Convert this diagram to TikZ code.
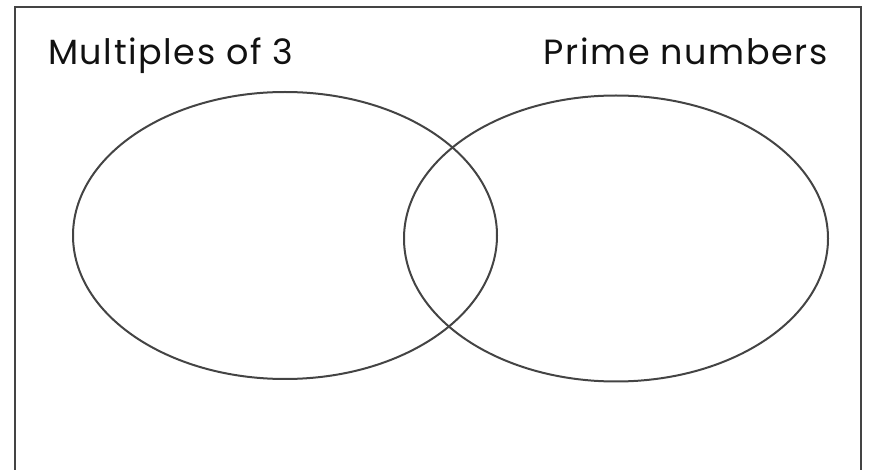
\documentclass[tikz,border=0pt]{standalone}
\usepackage{fontspec}
\setmainfont{Poppins}[LetterSpace=4.5]
\definecolor{linegray}{HTML}{444444}
\definecolor{txt}{HTML}{111111}
\begin{document}
\begin{tikzpicture}[x=1pt,y=-1pt,
  setline/.style={draw=linegray,line width=2pt},
  framebox/.style={draw=linegray,line width=2.5pt},
  setlabel/.style={font=\fontsize{35}{40}\selectfont,text=txt,inner sep=0pt}]
\useasboundingbox (0,0) rectangle (871,470);
\clip (0,0) rectangle (871,470);
\draw[framebox] (15,7) rectangle (861,490);
\draw[setline] (285,235.5) ellipse [x radius=212, y radius=143.5];
\draw[setline] (616,238.5) ellipse [x radius=212, y radius=143];
\node[setlabel,anchor=base west] (m3) at (48,65) {Multiples of 3};
\node[setlabel,anchor=base east] (pr) at (828,65) {Prime numbers};
\end{tikzpicture}
\end{document}
